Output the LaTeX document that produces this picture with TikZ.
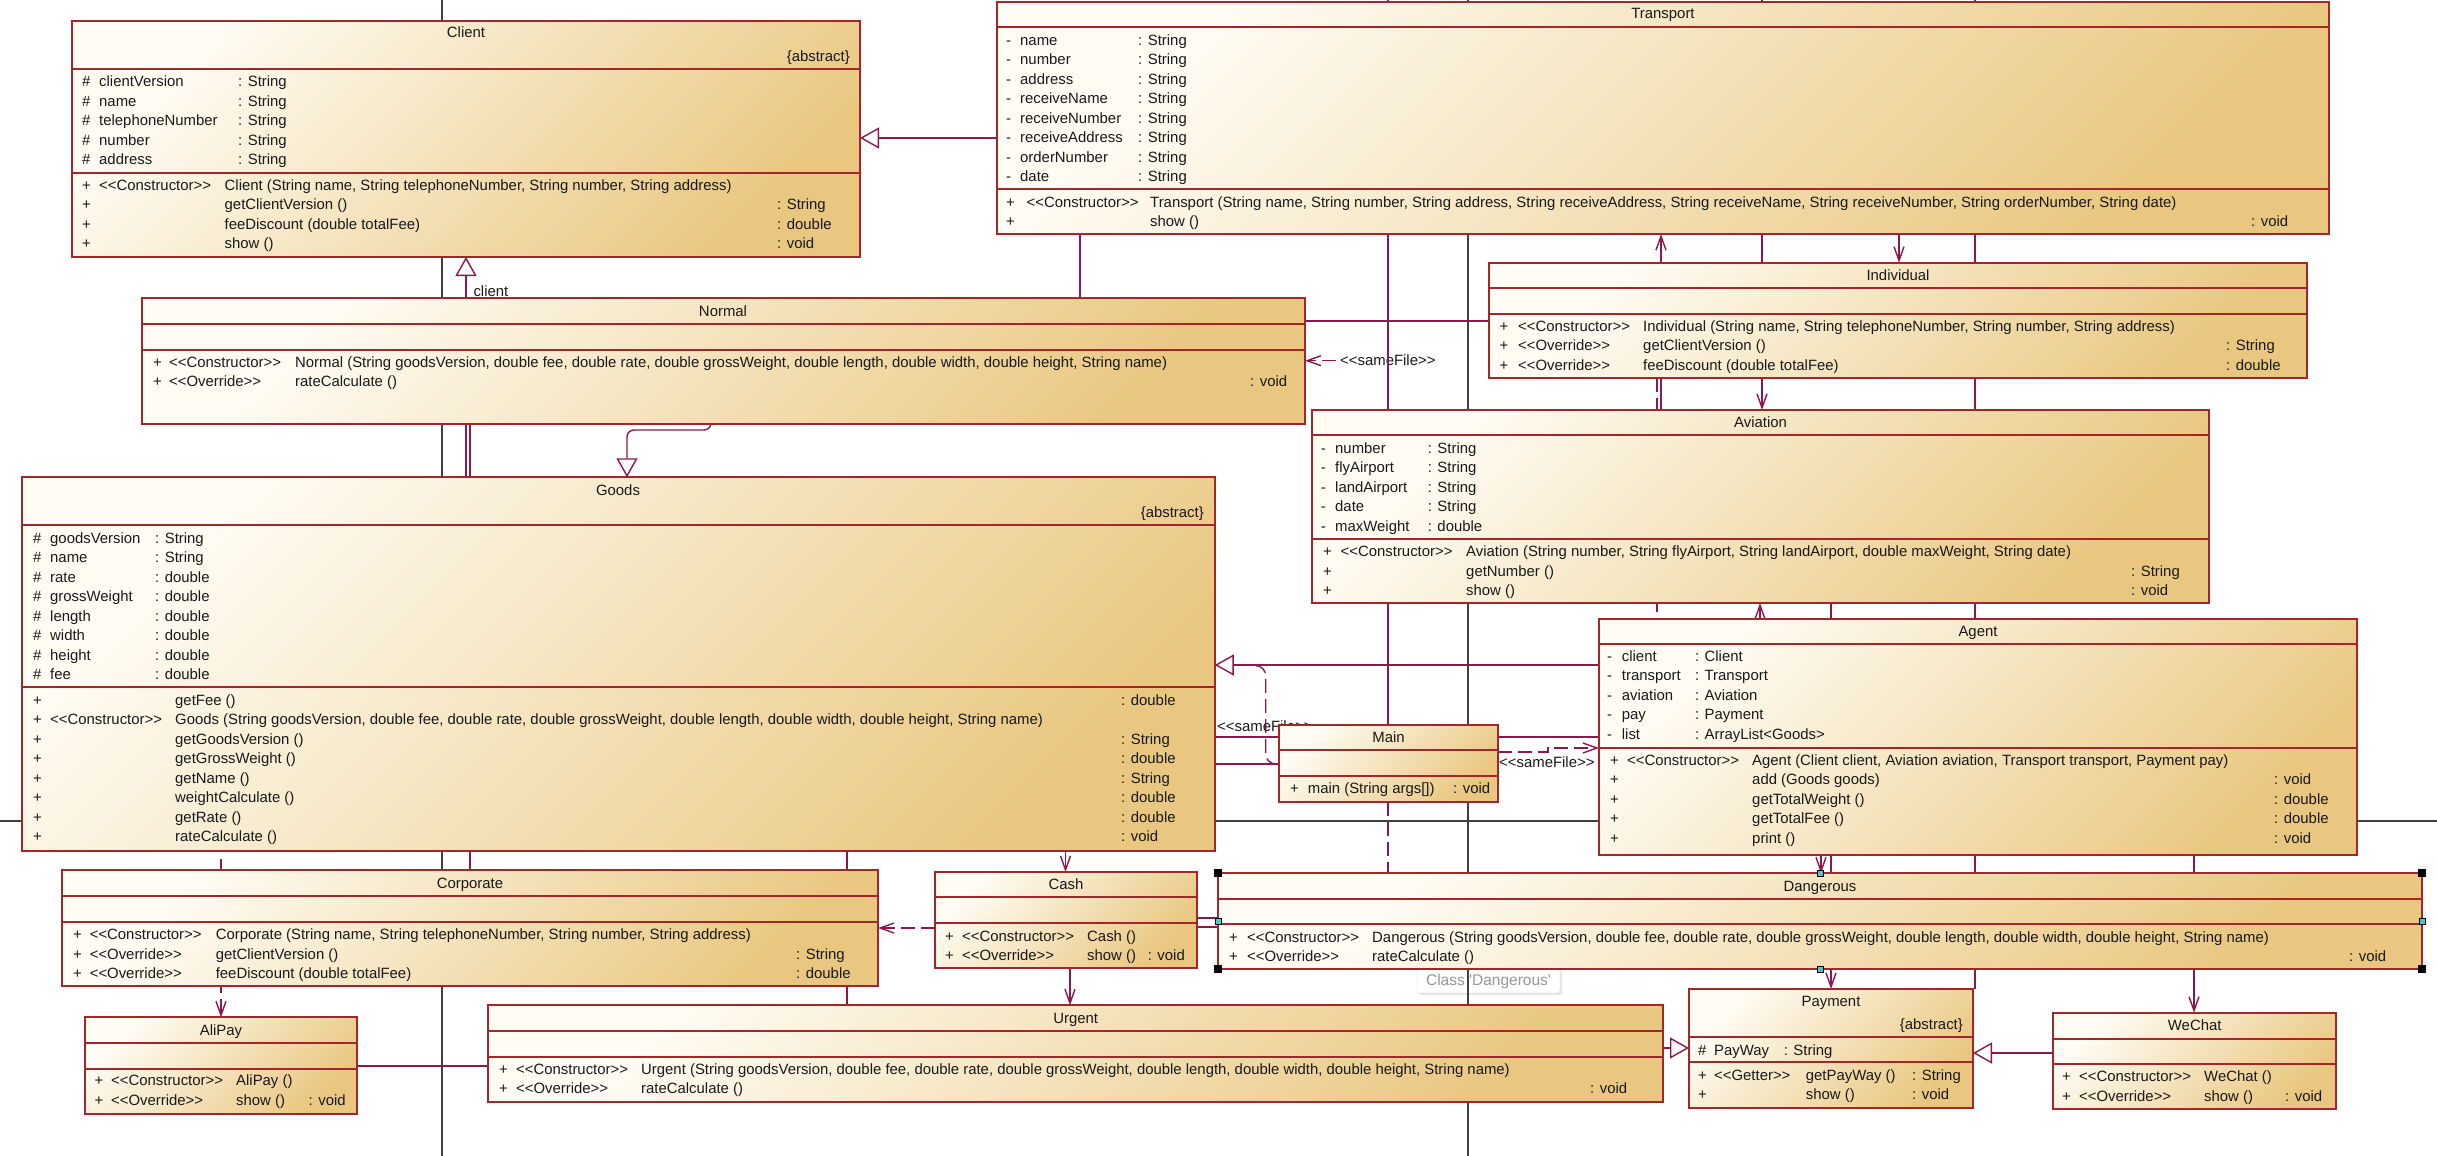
\documentclass[tikz,border=0pt]{standalone}
\usepackage{fontspec}
\setmainfont{Liberation Sans}[Ligatures=TeXOff]
\usetikzlibrary{arrows.meta,fit,shadows}
\definecolor{bordc}{RGB}{163,38,42}
\definecolor{lnc}{RGB}{140,24,78}
\definecolor{gryc}{RGB}{64,64,64}
\definecolor{ctl}{RGB}{255,252,244}
\definecolor{cbr}{RGB}{233,199,128}
\definecolor{txtc}{RGB}{25,25,25}
\pgfdeclarelayer{back}\pgfdeclarelayer{bg}\pgfdeclarelayer{front}
\pgfsetlayers{back,bg,main,front}
\newcommand{\umlfont}{\fontsize{14.9pt}{18pt}\selectfont}
\newcommand{\umlbox}[7]{%
  \node[clsbox, fit={(#2,#3) (#4,#5)}] (#1) {};
  \draw[sepl] (#2,#6) -- (#4,#6);
  \draw[sepl] (#2,#7) -- (#4,#7);
}
\newcommand{\attrrows}[6]{%
  \foreach \ava/\ana/\ata [count=\rowi] in {#6} {
    \node[txt] (#1-av\rowi) at (#2,{#5+19.5*\rowi-14.5}) {\ava};
    \node[txt] (#1-an\rowi) at (#3,{#5+19.5*\rowi-14.5}) {\ana};
    \node[txt] (#1-at\rowi) at (#4,{#5+19.5*\rowi-14.5}) {\ata};
  }}
\newcommand{\methrows}[7]{%
  \foreach \mva/\mst/\mnm/\mrt [count=\rowi] in {#7} {
    \node[txt] (#1-mv\rowi) at (#2,{#6+19.5*\rowi-14.5}) {\mva};
    \node[txt] (#1-ms\rowi) at (#3,{#6+19.5*\rowi-14.5}) {\mst};
    \node[txt] (#1-mn\rowi) at (#4,{#6+19.5*\rowi-14.5}) {\mnm};
    \node[txt] (#1-mr\rowi) at (#5,{#6+19.5*\rowi-14.5}) {\mrt};
  }}
\tikzset{
  clsbox/.style={draw=bordc, line width=2pt, inner sep=0pt, outer sep=0pt,
    top color=ctl, bottom color=cbr, shading angle=45},
  sepl/.style={draw=bordc, line width=2pt},
  txt/.style={anchor=base west, inner sep=0pt, font=\umlfont, text=txtc},
  ttl/.style={anchor=base, inner sep=0pt, font=\umlfont, text=txtc},
  rtxt/.style={anchor=base east, inner sep=0pt, font=\umlfont, text=txtc},
  assoc/.style={draw=lnc, line width=1.4pt},
  grayl/.style={draw=gryc, line width=1.6pt},
  dep/.style={assoc, dash pattern=on 14pt off 6pt},
  gen/.style={-{Triangle[fill=white, length=19pt, width=21pt]}},
  opn/.style={-{Straight Barb[length=14pt, width=10pt]}},
  handle/.style={fill=black, minimum size=8pt, inner sep=0pt},
  mhandle/.style={fill={rgb,255:red,70;green,200;blue,205}, draw=black, line width=1pt, minimum size=6pt, inner sep=0pt},
  tipbox/.style={draw={rgb,255:red,205;green,205;blue,205}, fill=white, rounded corners=2pt,
    text={rgb,255:red,150;green,150;blue,150}, font=\fontsize{15.5pt}{17pt}\selectfont,
    minimum width=143pt, minimum height=24pt, inner sep=0pt,
    drop shadow={opacity=0.2, shadow xshift=2pt, shadow yshift=-2pt}}
}
\begin{document}
\begin{tikzpicture}[x=1pt, y=-1pt]
\useasboundingbox (0,0) rectangle (2437,1156);
\begin{pgfonlayer}{back}
\fill[white] (0,0) rectangle (2437,1156);
\end{pgfonlayer}

% ---------------- classes ----------------
\umlbox{Client}{72}{20.7}{860}{257}{69}{172.7}
\node[ttl] (Client-t) at (466,38) {Client};
\node[rtxt] (Client-ab) at (850,62) {\{abstract\}};
\attrrows{Client}{82}{99}{238}{81.7}{\#/clientVersion/: String, \#/name/: String, \#/telephoneNumber/: String, \#/number/: String, \#/address/: String}
\methrows{Client}{82}{99}{224.5}{777}{185}{+/<<Constructor>>/{Client (String name, String telephoneNumber, String number, String address)}/{}, +//getClientVersion ()/: String, +//feeDiscount (double totalFee)/: double, +//show ()/: void}

\umlbox{Transport}{997}{2}{2329}{234}{27}{189}
\node[ttl] (Transport-t) at (1663,19) {Transport};
\attrrows{Transport}{1006}{1020}{1138}{40.3}{-/name/: String, -/number/: String, -/address/: String, -/receiveName/: String, -/receiveNumber/: String, -/receiveAddress/: String, -/orderNumber/: String, -/date/: String}
\methrows{Transport}{1006}{1026.5}{1150}{2251}{202}{+/<<Constructor>>/{Transport (String name, String number, String address, String receiveAddress, String receiveName, String receiveNumber, String orderNumber, String date)}/{}, +//show ()/: void}

\umlbox{Individual}{1489}{262.7}{2307}{378}{288}{314}
\node[ttl] (Individual-t) at (1898,280.5) {Individual};
\methrows{Individual}{1499.5}{1518}{1643}{2226}{326}{+/<<Constructor>>/{Individual (String name, String telephoneNumber, String number, String address)}/{}, +/<<Override>>/getClientVersion ()/: String, +/<<Override>>/feeDiscount (double totalFee)/: double}

\umlbox{Normal}{141.6}{298}{1305}{423.7}{324}{350}
\node[ttl] (Normal-t) at (723,316) {Normal};
\methrows{Normal}{153}{169}{295}{1250}{362}{+/<<Constructor>>/{Normal (String goodsVersion, double fee, double rate, double grossWeight, double length, double width, double height, String name)}/{}, +/<<Override>>/rateCalculate ()/: void}

\umlbox{Goods}{21.6}{477.3}{1214.8}{851}{525.3}{687.3}
\node[ttl] (Goods-t) at (618,495) {Goods};
\node[rtxt] (Goods-ab) at (1204,517.7) {\{abstract\}};
\attrrows{Goods}{33}{50}{155}{538.3}{\#/goodsVersion/: String, \#/name/: String, \#/rate/: double, \#/grossWeight/: double, \#/length/: double, \#/width/: double, \#/height/: double, \#/fee/: double}
\methrows{Goods}{33}{50}{175}{1121}{700}{+//getFee ()/: double, +/<<Constructor>>/{Goods (String goodsVersion, double fee, double rate, double grossWeight, double length, double width, double height, String name)}/{}, +//getGoodsVersion ()/: String, +//getGrossWeight ()/: double, +//getName ()/: String, +//weightCalculate ()/: double, +//getRate ()/: double, +//rateCalculate ()/: void}

\umlbox{Aviation}{1312}{410}{2209}{603}{435}{539}
\node[ttl] (Aviation-t) at (1760.5,427.7) {Aviation};
\attrrows{Aviation}{1320.6}{1335}{1427.6}{448.3}{-/number/: String, -/flyAirport/: String, -/landAirport/: String, -/date/: String, -/maxWeight/: double}
\methrows{Aviation}{1322.8}{1340.5}{1466}{2131}{551.7}{+/<<Constructor>>/{Aviation (String number, String flyAirport, String landAirport, double maxWeight, String date)}/{}, +//getNumber ()/: String, +//show ()/: void}

\umlbox{Agent}{1599}{618.7}{2356.7}{855}{644.3}{747.7}
\node[ttl] (Agent-t) at (1978,636) {Agent};
\attrrows{Agent}{1607}{1621.7}{1694.8}{656.3}{-/client/: Client, -/transport/: Transport, -/aviation/: Aviation, -/pay/: Payment, -/list/: ArrayList<Goods>}
\methrows{Agent}{1610}{1627}{1752}{2274}{760.3}{+/<<Constructor>>/{Agent (Client client, Aviation aviation, Transport transport, Payment pay)}/{}, +//add (Goods goods)/: void, +//getTotalWeight ()/: double, +//getTotalFee ()/: double, +//print ()/: void}

\umlbox{Main}{1279}{725}{1498.3}{801.7}{750}{776}
\node[ttl] (Main-t) at (1388.5,742) {Main};
\methrows{Main}{1290}{1290}{1307.7}{1453}{788.3}{+//{main (String args[])}/: void}

\umlbox{Corporate}{62}{870.3}{878}{986}{896}{921.7}
\node[ttl] (Corporate-t) at (470,888) {Corporate};
\methrows{Corporate}{73}{89.6}{215.6}{796}{934.7}{+/<<Constructor>>/{Corporate (String name, String telephoneNumber, String number, String address)}/{}, +/<<Override>>/getClientVersion ()/: String, +/<<Override>>/feeDiscount (double totalFee)/: double}

\umlbox{Cash}{935.3}{872}{1196.5}{968}{897.3}{923}
\node[ttl] (Cash-t) at (1066,889) {Cash};
\methrows{Cash}{945}{962}{1087}{1147.6}{936}{+/<<Constructor>>/Cash ()/{}, +/<<Override>>/show ()/: void}

\umlbox{AliPay}{84.6}{1017.3}{357.4}{1113.7}{1042.7}{1068.7}
\node[ttl] (AliPay-t) at (221,1035) {AliPay};
\methrows{AliPay}{94.5}{111}{236}{308.5}{1080.7}{+/<<Constructor>>/AliPay ()/{}, +/<<Override>>/show ()/: void}

\umlbox{Urgent}{488.4}{1005.3}{1663}{1102}{1030.7}{1056.7}
\node[ttl] (Urgent-t) at (1075.7,1023) {Urgent};
\methrows{Urgent}{499}{516}{641}{1590}{1069}{+/<<Constructor>>/{Urgent (String goodsVersion, double fee, double rate, double grossWeight, double length, double width, double height, String name)}/{}, +/<<Override>>/rateCalculate ()/: void}

\umlbox{Dangerous}{1218}{873.3}{2422.4}{969.3}{899.3}{924.3}
\node[ttl] (Dangerous-t) at (1820,891) {Dangerous};
\methrows{Dangerous}{1229}{1247}{1372}{2349}{937.3}{+/<<Constructor>>/{Dangerous (String goodsVersion, double fee, double rate, double grossWeight, double length, double width, double height, String name)}/{}, +/<<Override>>/rateCalculate ()/: void}

\umlbox{Payment}{1689}{989}{1973}{1107.7}{1037.3}{1062.3}
\node[ttl] (Payment-t) at (1831,1006.7) {Payment};
\node[rtxt] (Payment-ab) at (1963,1029) {\{abstract\}};
\attrrows{Payment}{1698}{1714}{1783.6}{1050}{\#/PayWay/: String}
\methrows{Payment}{1698}{1714}{1805.7}{1912}{1075.3}{+/<<Getter>>/getPayWay ()/: String, +//show ()/: void}

\umlbox{WeChat}{2053}{1012.7}{2336.4}{1109.3}{1038.7}{1064}
\node[ttl] (WeChat-t) at (2194.7,1030.3) {WeChat};
\methrows{WeChat}{2062}{2079}{2204}{2285}{1076.7}{+/<<Constructor>>/WeChat ()/{}, +/<<Override>>/show ()/: void}

% ---------------- connectors (behind boxes) ----------------
\begin{pgfonlayer}{bg}
\node[tipbox] (tooltip) at (1488.5,981) {Class 'Dangerous'};
\coordinate (g1t) at (442,0); \coordinate (g1b) at (442,1156);
\coordinate (g2t) at (1468,0); \coordinate (g2b) at (1468,1156);
\coordinate (g3l) at (0,821); \coordinate (g3r) at (2437,821);
\draw[grayl] (g1t) -- (g1b);
\draw[grayl] (g2t) -- (g2b);
\draw[grayl] (g3l) -- (g3r);

\draw[assoc,gen] (Transport.west |- 0,138) -- (Client.east |- 0,138);
\draw[assoc,gen] (466,0 |- Goods.north) -- (466,0 |- Client.south);
\node[txt] (clientlbl) at (473.3,296.7) {client};
\draw[assoc] (470,0 |- Normal.south) -- (470,0 |- Corporate.north);
\draw[assoc,gen,rounded corners=7pt] (711,0 |- Normal.south) -- (711,430) -- (627,430) -- (627,0 |- Goods.north);
\draw[assoc] (1080,0 |- Transport.south) -- (1080,0 |- Normal.north);
\draw[assoc] (Normal.east |- 0,321) -- (Individual.west |- 0,321);
\coordinate (sf1) at (1336,360.7);
\draw[dep,opn] (sf1) -- (Normal.east |- sf1);
\node[txt] (sf1lbl) at (1340,365.7) {<<sameFile>>};

\coordinate (v1388t) at (1388,0);
\draw[assoc] (v1388t) -- (v1388t |- Main.north);
\draw[dep] (v1388t |- Main.south) -- (v1388t |- Dangerous.north);
\draw[assoc,opn] (1661,0 |- Aviation.north) -- (1661,0 |- Transport.south);
\coordinate (d1657) at (1657,612);
\draw[dep] (d1657 |- Individual.south) -- (d1657);
\coordinate (v1762t) at (1762,0);
\draw[assoc,opn] (v1762t) -- (v1762t |- Aviation.north);
\draw[assoc,opn] (1760,0 |- Agent.north) -- (1760,0 |- Aviation.south);
\draw[assoc,opn] (1899,0 |- Transport.south) -- (1899,0 |- Individual.north);
\coordinate (v1975t) at (1975,0);
\draw[assoc] (v1975t) -- (v1975t |- Payment.north);
\draw[assoc,opn] (1831,0 |- Aviation.south) -- (1831,0 |- Payment.north);
\draw[assoc,opn] (1821,0 |- Agent.south) -- (1821,0 |- Dangerous.north);
\draw[assoc,opn] (2194,0 |- Agent.south) -- (2194,0 |- WeChat.north);

\draw[assoc,opn] (1065.5,0 |- Goods.south) -- (1065.5,0 |- Cash.north);
\draw[assoc,opn] (1070,0 |- Cash.south) -- (1070,0 |- Urgent.north);
\draw[assoc] (847,0 |- Goods.south) -- (847,0 |- Urgent.north);
\coordinate (ap0) at (221,859);
\draw[dep,opn] (ap0) -- (ap0 |- AliPay.north);
\draw[dep,opn] (Cash.west |- 0,928) -- (Corporate.east |- 0,928);
\draw[assoc] (Cash.east |- 0,918) -- (Dangerous.west |- 0,918);
\draw[assoc] (Cash.east |- 0,927) -- (Dangerous.west |- 0,927);
\draw[assoc] (AliPay.east |- 0,1066) -- (Urgent.west |- 0,1066);
\draw[assoc,gen] (Urgent.east |- 0,1048) -- (Payment.west |- 0,1048);
\draw[assoc,gen] (WeChat.west |- 0,1053) -- (Payment.east |- 0,1053);

\draw[assoc,gen] (Agent.west |- 0,665) -- (Goods.east |- 0,665);
\draw[assoc] (Goods.east |- 0,737) -- (Main.west |- 0,737);
\draw[assoc] (Main.east |- 0,737) -- (Agent.west |- 0,737);
\draw[assoc] (Goods.east |- 0,764) -- (Main.west |- 0,764);
\draw[dep,opn] (Main.east |- 0,752) -- (1548,752) -- (1548,748) -- (Agent.west |- 0,748);
\node[txt] (sf3lbl) at (1499,767.7) {<<sameFile>>};
\draw[dep] (Main.west |- 0,764) -- (1276,764) to[out=180,in=-90] (1265.7,754) -- (1265.7,676) to[out=90,in=0] (1256,665.7);
\node[txt] (sf2lbl) at (1217,731.7) {<<sameFile>>};
\end{pgfonlayer}

% ---------------- selection handles ----------------
\begin{pgfonlayer}{front}
\node[handle] (hnw) at (Dangerous.north west) {};
\node[handle] (hne) at (Dangerous.north east) {};
\node[handle] (hsw) at (Dangerous.south west) {};
\node[handle] (hse) at (Dangerous.south east) {};
\node[mhandle] (hw) at (Dangerous.west) {};
\node[mhandle] (he) at (Dangerous.east) {};
\node[mhandle] (hn) at (Dangerous.north) {};
\node[mhandle] (hs) at (Dangerous.south) {};
\end{pgfonlayer}
\end{tikzpicture}
\end{document}
